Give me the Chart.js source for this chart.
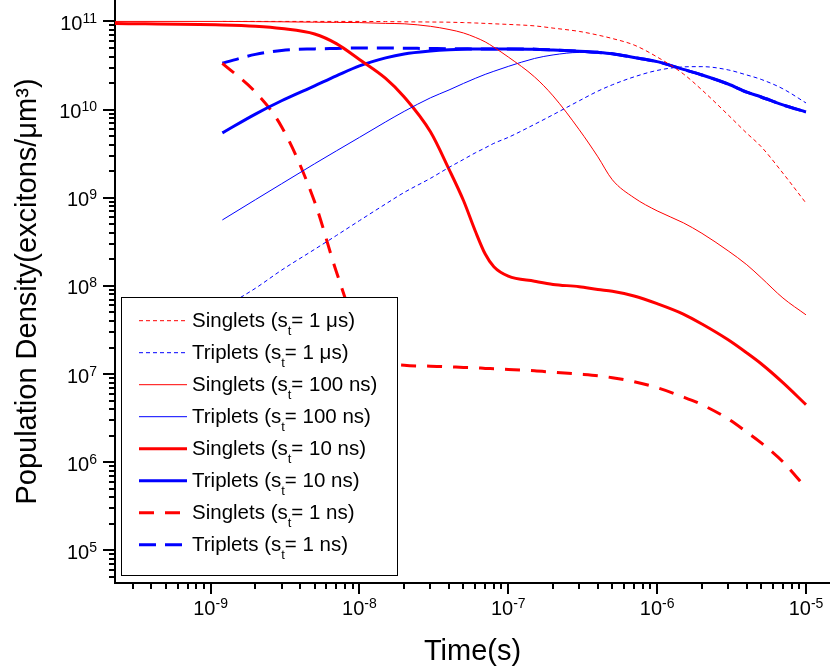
<!DOCTYPE html>
<html>
<head>
<meta charset="utf-8">
<script src="https://cdn.jsdelivr.net/npm/chart.js@4.4.1/dist/chart.umd.min.js"></script>
<style>
html,body{margin:0;padding:0;background:#ffffff;}
canvas{display:block;}
</style>
</head>
<body>
<canvas id="chart" width="830" height="671"></canvas>
<script>
// ---------- DATA ----------
const times = [2e-10, 1.2e-9, 2e-9, 3e-9, 5e-9, 7e-9, 1e-8, 1.5e-8, 2e-8, 3e-8, 4e-8, 5e-8, 6e-8, 7e-8, 8e-8,
  1e-7, 1.5e-7, 2e-7, 3e-7, 4e-7, 5e-7, 7e-7, 1e-6, 1.5e-6, 2e-6, 3e-6, 4e-6, 5e-6, 7e-6, 1e-5];

const singlets1us = [null, 1.0e11, 1.0e11, 1.0e11, 1.0e11, 1.0e11, 1.0e11, 9.95e10, 9.9e10, 9.85e10, 9.8e10, 9.7e10, 9.6e10, 9.5e10, 9.4e10,
  9.25e10, 8.9e10, 8.4e10, 7.7e10, 7.0e10, 6.4e10, 5.4e10, 3.95e10, 2.54e10, 1.67e10, 8.7e9, 5.4e9, 3.8e9, 1.9e9, 8.7e8];
const triplets1us = [null, 5.6e7, 9.4e7, 1.51e8, 2.6e8, 3.73e8, 5.5e8, 8.5e8, 1.15e9, 1.66e9, 2.21e9, 2.72e9, 3.23e9, 3.68e9, 4.14e9,
  4.84e9, 6.8e9, 8.75e9, 1.26e10, 1.62e10, 1.91e10, 2.35e10, 2.78e10, 3.05e10, 3.07e10, 2.82e10, 2.47e10, 2.2e10, 1.72e10, 1.19e10];
const singlets100ns = [1.0e11, 1.0e11, 9.95e10, 9.9e10, 9.8e10, 9.75e10, 9.7e10, 9.5e10, 9.4e10, 8.8e10, 8.1e10, 7.4e10, 6.6e10, 5.86e10, 5.1e10,
  3.95e10, 2.35e10, 1.43e10, 5.9e9, 2.91e9, 1.6e9, 1.0e9, 7.1e8, 5.2e8, 3.95e8, 2.5e8, 1.74e8, 1.24e8, 7.3e7, 4.7e7];
const triplets100ns = [null, 5.6e8, 9.5e8, 1.44e9, 2.43e9, 3.4e9, 4.84e9, 7.25e9, 9.55e9, 1.36e10, 1.67e10, 1.98e10, 2.26e10, 2.51e10, 2.72e10,
  3.09e10, 3.8e10, 4.17e10, 4.45e10, 4.4e10, 4.25e10, 3.86e10, 3.46e10, 2.83e10, 2.44e10, 1.93e10, 1.56e10, 1.37e10, 1.12e10, 9.3e9];
const singlets10ns = [9.5e10, 9.1e10, 8.8e10, 8.3e10, 7.2e10, 5.6e10, 3.7e10, 2.26e10, 1.39e10, 5.6e9, 2.1e9, 9.3e8, 4.2e8, 2.3e8, 1.65e8,
  1.29e8, 1.13e8, 1.04e8, 9.8e7, 9.1e7, 8.7e7, 7.7e7, 6.3e7, 4.8e7, 3.7e7, 2.45e7, 1.74e7, 1.31e7, 8.0e6, 4.5e6];
const triplets10ns = [null, 5.45e9, 8.9e9, 1.26e10, 1.86e10, 2.41e10, 3.13e10, 3.86e10, 4.28e10, 4.62e10, 4.78e10, 4.85e10, 4.87e10, 4.88e10, 4.88e10,
  4.88e10, 4.85e10, 4.75e10, 4.6e10, 4.46e10, 4.3e10, 3.9e10, 3.5e10, 2.86e10, 2.47e10, 1.95e10, 1.58e10, 1.39e10, 1.13e10, 9.4e9];
const singlets1ns = [null, 3.34e10, 1.58e10, 6.4e9, 9.0e8, 1.45e8, 2.8e7, 1.38e7, 1.26e7, 1.23e7, 1.21e7, 1.19e7, 1.18e7, 1.16e7, 1.15e7,
  1.13e7, 1.09e7, 1.05e7, 1.0e7, 9.6e6, 9.1e6, 8.2e6, 7.0e6, 5.5e6, 4.5e6, 3.1e6, 2.2e6, 1.66e6, 1.01e6, 5.1e5];
const triplets1ns = [null, 3.36e10, 4.23e10, 4.69e10, 4.88e10, 4.94e10, 5.0e10, 5.0e10, 4.97e10, 4.93e10, 4.9e10, 4.89e10, 4.88e10, 4.88e10, 4.88e10,
  4.88e10, 4.85e10, 4.75e10, 4.6e10, 4.46e10, 4.3e10, 3.9e10, 3.5e10, 2.86e10, 2.47e10, 1.95e10, 1.58e10, 1.39e10, 1.13e10, 9.4e9];

const speciesNames = ['Singlets', 'Triplets', 'Singlets', 'Triplets', 'Singlets', 'Triplets', 'Singlets', 'Triplets'];
const lifetimes = ['1 μs', '1 μs', '100 ns', '100 ns', '10 ns', '10 ns', '1 ns', '1 ns'];
const seriesValues = [singlets1us, triplets1us, singlets100ns, triplets100ns, singlets10ns, triplets10ns, singlets1ns, triplets1ns];

const xTickExponents = [-9, -8, -7, -6, -5];
const yTickExponents = [5, 6, 7, 8, 9, 10, 11];
const xTitle = 'Time(s)';
const yTitle = 'Population Density(excitons/μm³)';

// ---------- STYLE ----------
const RED = '#ff0000', BLUE = '#0000ff';
const FONT = '"Liberation Sans", Arial, Helvetica, sans-serif';
const seriesStyles = [
  {color: RED, width: 1, dash: [4, 3]},
  {color: BLUE, width: 1, dash: [4, 3]},
  {color: RED, width: 1, dash: []},
  {color: BLUE, width: 1, dash: []},
  {color: RED, width: 3, dash: []},
  {color: BLUE, width: 3, dash: []},
  {color: RED, width: 3, dash: [15, 11]},
  {color: BLUE, width: 3, dash: [17, 9]}
];
const X_MIN = 2.28e-10, X_MAX = 1.45e-5;
const Y_MIN = 4.27e4, Y_MAX = 1.75e11;

const datasets = seriesValues.map((vals, i) => ({
  label: speciesNames[i] + ' (st= ' + lifetimes[i] + ')',
  data: times.map((t, j) => ({x: t, y: vals[j]})).filter(p => p.y !== null),
  borderColor: seriesStyles[i].color,
  borderWidth: seriesStyles[i].width,
  borderDash: seriesStyles[i].dash,
  pointRadius: 0,
  fill: false,
  cubicInterpolationMode: 'monotone'
}));

function logTickList(min, max) {
  const out = [];
  for (let e = Math.floor(Math.log10(min)); e <= Math.ceil(Math.log10(max)); e++) {
    for (let k = 1; k <= 9; k++) {
      const v = k * Math.pow(10, e);
      if (v >= min * 0.9999 && v <= max * 1.0001) out.push({v: v, major: k === 1});
    }
  }
  return out;
}

function drawPow(ctx, exp, x, baseY, mode) {
  const big = '20px ' + FONT, small = '14px ' + FONT;
  ctx.font = big; const w1 = ctx.measureText('10').width;
  ctx.font = small; const es = String(exp); const w2 = ctx.measureText(es).width;
  let sx;
  if (mode === 'center') sx = x - (w1 + w2) / 2; else sx = x - (w1 + w2);
  ctx.textAlign = 'left'; ctx.textBaseline = 'alphabetic'; ctx.fillStyle = '#000';
  ctx.font = big; ctx.fillText('10', sx, baseY);
  ctx.font = small; ctx.fillText(es, sx + w1, baseY - 7);
}

const decorPlugin = {
  id: 'decor',
  afterDatasetsDraw(chart) {
    const ctx = chart.ctx, ca = chart.chartArea;
    const left = ca.left + 6, bottom = ca.bottom - 8;
    const w = 276, h = 278, top = bottom - h;
    ctx.save();
    ctx.fillStyle = '#ffffff';
    ctx.fillRect(left, top, w, h);
    ctx.strokeStyle = '#000'; ctx.lineWidth = 1;
    ctx.strokeRect(Math.round(left) + 0.5, Math.round(top) + 0.5, w, h);
    chart.data.datasets.forEach((ds, i) => {
      const cy = top + 23.7 + 32 * i;
      ctx.beginPath();
      ctx.strokeStyle = ds.borderColor; ctx.lineWidth = ds.borderWidth;
      ctx.setLineDash(ds.borderDash || []);
      ctx.moveTo(left + 18, cy); ctx.lineTo(left + 66, cy); ctx.stroke();
      ctx.setLineDash([]);
      const tx = left + 71;
      ctx.fillStyle = '#000'; ctx.textAlign = 'left'; ctx.textBaseline = 'alphabetic';
      ctx.font = '20.5px ' + FONT;
      const s1 = speciesNames[i] + ' (s';
      ctx.fillText(s1, tx, cy + 6.5);
      let cx = tx + ctx.measureText(s1).width;
      ctx.font = '13px ' + FONT;
      ctx.fillText('t', cx, cy + 14);
      cx += ctx.measureText('t').width;
      ctx.font = '20.5px ' + FONT;
      ctx.fillText('= ' + lifetimes[i] + ')', cx, cy + 6.5);
    });
    ctx.restore();
  },
  afterDraw(chart) {
    const ctx = chart.ctx, ca = chart.chartArea;
    const xs = chart.scales.x, ys = chart.scales.y;
    ctx.save();
    ctx.strokeStyle = '#000';
    logTickList(xs.min, xs.max).forEach(t => {
      const px = Math.round(xs.getPixelForValue(t.v));
      ctx.lineWidth = 2;
      ctx.beginPath(); ctx.moveTo(px, ca.bottom); ctx.lineTo(px, ca.bottom + (t.major ? 11 : 6)); ctx.stroke();
    });
    logTickList(ys.min, ys.max).forEach(t => {
      const py = Math.round(ys.getPixelForValue(t.v));
      ctx.lineWidth = 2;
      ctx.beginPath(); ctx.moveTo(ca.left, py); ctx.lineTo(ca.left - (t.major ? 12 : 6), py); ctx.stroke();
    });
    xTickExponents.forEach(e => {
      const px = xs.getPixelForValue(Math.pow(10, e));
      drawPow(ctx, e, px, ca.bottom + 32, 'center');
    });
    yTickExponents.forEach(e => {
      const py = ys.getPixelForValue(Math.pow(10, e));
      drawPow(ctx, e, ca.left - 18, py + 8.5, 'right');
    });
    ctx.restore();
  }
};

new Chart(document.getElementById('chart'), {
  type: 'line',
  data: {datasets: datasets},
  plugins: [decorPlugin],
  options: {
    responsive: false,
    animation: false,
    devicePixelRatio: 1,
    layout: {padding: {left: 0, right: 0, top: 0, bottom: 0}},
    plugins: {legend: {display: false}, tooltip: {enabled: false}},
    elements: {point: {radius: 0}},
    scales: {
      x: {
        type: 'logarithmic', min: X_MIN, max: X_MAX,
        grid: {display: false, drawTicks: false},
        border: {display: true, color: '#000', width: 2},
        ticks: {display: false},
        title: {display: true, text: xTitle, color: '#000',
          font: {family: FONT, size: 29, lineHeight: 1.2}, padding: {top: 51.6, bottom: 1.6}}
      },
      y: {
        type: 'logarithmic', min: Y_MIN, max: Y_MAX,
        grid: {display: false, drawTicks: false},
        border: {display: true, color: '#000', width: 2},
        ticks: {display: false},
        title: {display: true, text: yTitle, color: '#000',
          font: {family: FONT, size: 29, lineHeight: 1.2}, padding: {top: 10.6, bottom: 69.6}}
      }
    }
  }
});
</script>
</body>
</html>
